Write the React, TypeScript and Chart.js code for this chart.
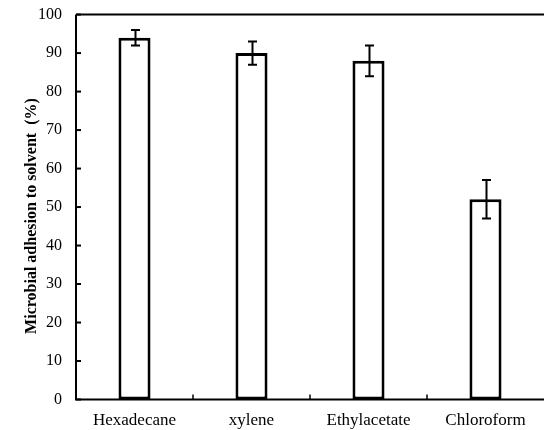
import { useEffect, useRef } from "react";
import { Chart, registerables } from "chart.js";

Chart.register(...registerables);

const categories = ["Hexadecane", "xylene", "Ethylacetate", "Chloroform"];
const adhesion = [94, 90, 88, 52];
const errorsPlusMinus = [2, 3, 4, 5];
const yMin = 0;
const yMax = 100;
const yStep = 10;
const yTitle = "Microbial adhesion to solvent  (%)";

const SERIF = "'Liberation Serif', 'Times New Roman', serif";

const framePlugin = {
  id: "frameAndErrors",
  afterDatasetsDraw(chart: any) {
    const { ctx, chartArea, scales } = chart;
    const y = scales.y;
    const x = scales.x;
    ctx.save();
    ctx.strokeStyle = "#000";

    // error bars
    const meta = chart.getDatasetMeta(0);
    ctx.lineWidth = 2;
    meta.data.forEach((bar: any, i: number) => {
      const v = adhesion[i];
      const e = errorsPlusMinus[i];
      const yTop = y.getPixelForValue(v + e);
      const yBot = y.getPixelForValue(v - e);
      const cx = Math.round(bar.x) + 0.5;
      const cap = 4.5;
      ctx.beginPath();
      ctx.moveTo(cx, yTop);
      ctx.lineTo(cx, yBot);
      ctx.moveTo(cx - cap, yTop);
      ctx.lineTo(cx + cap, yTop);
      ctx.moveTo(cx - cap, yBot);
      ctx.lineTo(cx + cap, yBot);
      ctx.stroke();
    });

    // axes lines
    ctx.lineWidth = 2;
    ctx.beginPath();
    ctx.moveTo(chartArea.left, chartArea.top);
    ctx.lineTo(chartArea.right, chartArea.top);
    ctx.moveTo(chartArea.left, chartArea.top);
    ctx.lineTo(chartArea.left, chartArea.bottom);
    ctx.moveTo(chartArea.left - 1, chartArea.bottom);
    ctx.lineTo(chartArea.right, chartArea.bottom);
    ctx.stroke();

    // y ticks inward
    y.ticks.forEach((t: any) => {
      const py = y.getPixelForValue(t.value);
      ctx.beginPath();
      ctx.moveTo(chartArea.left, py);
      ctx.lineTo(chartArea.left + 5, py);
      ctx.stroke();
    });

    // x boundary ticks inward
    ctx.lineWidth = 1.5;
    for (let i = 1; i < categories.length; i++) {
      const px = (x.getPixelForValue(i - 1) + x.getPixelForValue(i)) / 2;
      ctx.beginPath();
      ctx.moveTo(px, chartArea.bottom);
      ctx.lineTo(px, chartArea.bottom - 5);
      ctx.stroke();
    }

    // y-axis title (slightly below the chart-area centre, as in the reference)
    ctx.fillStyle = "#000";
    ctx.font = `bold 16px ${SERIF}`;
    ctx.textAlign = "center";
    ctx.textBaseline = "middle";
    ctx.translate(32, (chartArea.top + chartArea.bottom) / 2 + 9);
    ctx.rotate(-Math.PI / 2);
    ctx.fillText(yTitle, 0, 0);
    ctx.restore();
  },
};

export default function App() {
  const ref = useRef<HTMLCanvasElement | null>(null);

  useEffect(() => {
    if (!ref.current) return;
    const chart = new Chart(ref.current, {
      type: "bar",
      data: {
        labels: categories,
        datasets: [
          {
            data: adhesion,
            backgroundColor: "#ffffff",
            borderColor: "#000000",
            borderWidth: 3,
            borderSkipped: false,
            categoryPercentage: 1,
            barPercentage: 0.274,
          },
        ],
      },
      options: {
        responsive: false,
        animation: false,
        layout: { padding: { top: 4, right: 0, left: 0, bottom: 0 } },
        plugins: {
          legend: { display: false },
          tooltip: { enabled: false },
        },
        scales: {
          x: {
            type: "category",
            grid: { display: false, drawTicks: false },
            border: { display: false },
            ticks: {
              color: "#000",
              padding: 11,
              maxRotation: 0,
              autoSkip: false,
              font: { family: SERIF, size: 17 },
            },
            afterFit: (s: any) => {
              s.height = 30.5;
            },
          },
          y: {
            min: yMin,
            max: yMax,
            grid: { display: false, drawTicks: false },
            border: { display: false },
            ticks: {
              stepSize: yStep,
              color: "#000",
              padding: 14,
              font: { family: SERIF, size: 16 },
            },
            title: { display: false },
            afterFit: (s: any) => {
              s.width = 76;
            },
          },
        },
      },
      plugins: [framePlugin],
    });
    return () => chart.destroy();
  }, []);

  return (
    <div style={{ position: "absolute", left: 0, top: 0, width: 544, height: 430, overflow: "hidden", background: "#fff" }}>
      <canvas ref={ref} width={544} height={439} style={{ position: "absolute", left: 0, top: -9 }} />
    </div>
  );
}
